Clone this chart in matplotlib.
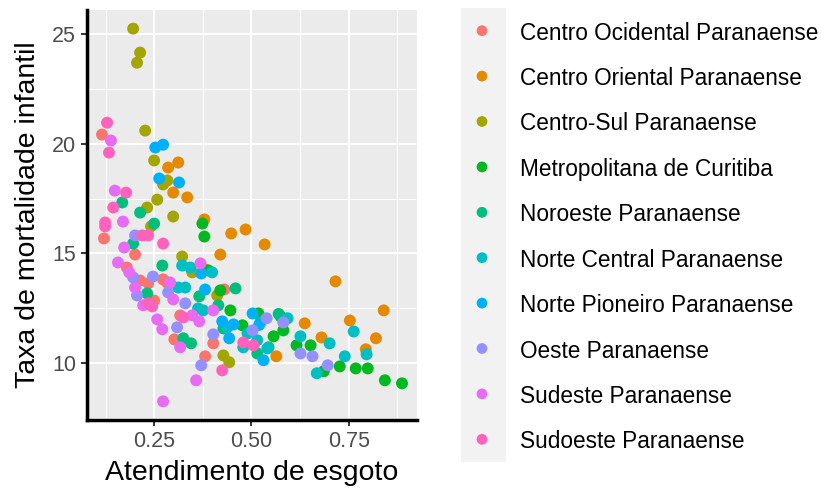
import numpy as np
import matplotlib.pyplot as plt
from matplotlib.patches import Rectangle

plt.rcParams['font.family'] = ['Liberation Sans', 'DejaVu Sans']

# mesorregioes e cores (paleta hue do ggplot)
regioes = ["Centro Ocidental Paranaense", "Centro Oriental Paranaense",
           "Centro-Sul Paranaense", "Metropolitana de Curitiba",
           "Noroeste Paranaense", "Norte Central Paranaense",
           "Norte Pioneiro Paranaense", "Oeste Paranaense",
           "Sudeste Paranaense", "Sudoeste Paranaense"]
cores = ["#F8766D", "#E58A00", "#A3A500", "#00B81F", "#00BF7D",
         "#00BFC4", "#00B0F6", "#9590FF", "#E76BF3", "#FF62BC"]

# atendimento de esgoto (x) e taxa de mortalidade infantil (y)
x_centro_ocidental = [0.116, 0.121, 0.201, 0.180, 0.214, 0.235, 0.273, 0.283, 0.250, 0.317, 0.302, 0.402, 0.381, 0.430]
y_centro_ocidental = [20.41, 15.68, 14.95, 14.36, 13.77, 13.64, 13.82, 13.68, 12.86, 12.18, 11.09, 10.91, 10.32, 13.36]

x_centro_oriental = [0.286, 0.312, 0.299, 0.335, 0.379, 0.448, 0.485, 0.534, 0.420, 0.381, 0.564, 0.637, 0.680, 0.716, 0.753, 0.840, 0.820, 0.794]
y_centro_oriental = [18.91, 19.14, 17.77, 17.55, 16.55, 15.91, 16.09, 15.41, 14.95, 14.27, 10.32, 11.82, 11.18, 13.73, 11.95, 12.41, 11.14, 10.64]

x_centro_sul = [0.196, 0.214, 0.206, 0.227, 0.250, 0.284, 0.273, 0.232, 0.258, 0.299, 0.242, 0.322, 0.348, 0.412, 0.428, 0.443]
y_centro_sul = [25.23, 24.14, 23.68, 20.59, 19.23, 18.32, 18.14, 17.09, 17.45, 16.68, 16.23, 14.86, 14.14, 13.09, 10.36, 10.05]

x_metropolitana = [0.374, 0.379, 0.389, 0.420, 0.446, 0.477, 0.518, 0.575, 0.582, 0.557, 0.616, 0.652, 0.686, 0.727, 0.768, 0.799, 0.843, 0.887]
y_metropolitana = [16.36, 15.77, 14.23, 13.32, 12.41, 11.73, 12.27, 12.14, 11.50, 11.23, 10.82, 10.82, 9.64, 9.86, 9.77, 9.77, 9.23, 9.09]

x_noroeste = [0.168, 0.214, 0.250, 0.196, 0.271, 0.232, 0.366, 0.459, 0.415, 0.325, 0.345, 0.515, 0.544, 0.428, 0.570]
y_noroeste = [17.32, 16.86, 16.36, 15.45, 14.45, 13.18, 13.05, 13.41, 12.64, 11.14, 10.91, 10.45, 10.73, 11.59, 12.25]

x_norte_central = [0.322, 0.343, 0.399, 0.312, 0.330, 0.363, 0.376, 0.438, 0.523, 0.593, 0.490, 0.515, 0.479, 0.541, 0.626, 0.701, 0.668, 0.763, 0.796, 0.740]
y_norte_central = [14.45, 14.36, 14.14, 13.45, 13.45, 12.50, 12.41, 11.64, 11.86, 12.05, 11.36, 11.05, 10.73, 10.68, 11.23, 10.91, 9.55, 11.45, 10.41, 10.32]

x_norte_pioneiro = [0.253, 0.273, 0.263, 0.314, 0.371, 0.381, 0.425, 0.454, 0.503, 0.443, 0.531, 0.520]
y_norte_pioneiro = [19.82, 19.95, 18.41, 18.23, 14.09, 13.36, 11.91, 11.77, 12.27, 11.14, 10.14, 11.75]

x_oeste = [0.201, 0.196, 0.247, 0.206, 0.286, 0.330, 0.309, 0.402, 0.371, 0.539, 0.582, 0.503, 0.626, 0.657, 0.696]
y_oeste = [15.82, 13.91, 13.95, 13.09, 13.23, 12.73, 11.64, 11.32, 9.91, 12.05, 11.86, 11.50, 10.45, 10.32, 9.91]

x_sudeste = [0.139, 0.149, 0.170, 0.173, 0.157, 0.186, 0.201, 0.291, 0.299, 0.222, 0.369, 0.348, 0.366, 0.258, 0.271, 0.317, 0.358, 0.273, 0.402]
y_sudeste = [20.14, 17.86, 16.45, 15.27, 14.59, 14.14, 13.45, 13.68, 12.91, 12.64, 14.55, 12.18, 11.91, 12.00, 11.55, 10.73, 9.23, 8.27, 12.41]

x_sudoeste = [0.129, 0.134, 0.178, 0.145, 0.124, 0.124, 0.219, 0.235, 0.273, 0.235, 0.245, 0.325, 0.479, 0.505, 0.425]
y_sudoeste = [20.95, 19.59, 17.77, 17.09, 16.41, 16.23, 15.82, 15.82, 15.45, 12.73, 12.59, 12.09, 10.95, 10.82, 9.68]

series = [(x_centro_ocidental, y_centro_ocidental), (x_centro_oriental, y_centro_oriental),
          (x_centro_sul, y_centro_sul), (x_metropolitana, y_metropolitana),
          (x_noroeste, y_noroeste), (x_norte_central, y_norte_central),
          (x_norte_pioneiro, y_norte_pioneiro), (x_oeste, y_oeste),
          (x_sudeste, y_sudeste), (x_sudoeste, y_sudoeste)]

W, H = 821, 490
fig = plt.figure(figsize=(W / 100, H / 100), dpi=100)
ax = fig.add_axes([87 / W, 1 - 420 / H, 330 / W, 410 / H])
ax.set_facecolor("#EBEBEB")

for (xs, ys), cor in zip(series, cores):
    ax.scatter(xs, ys, s=74, color=cor, edgecolors="none", zorder=3)

# limites com expansao de 5% como no ggplot
todos_x = np.concatenate([s[0] for s in series])
todos_y = np.concatenate([s[1] for s in series])
dx = (todos_x.max() - todos_x.min()) * 0.05
dy = (todos_y.max() - todos_y.min()) * 0.05
ax.set_xlim(todos_x.min() - dx, todos_x.max() + dx)
ax.set_ylim(todos_y.min() - dy, todos_y.max() + dy)

ax.set_xticks([0.25, 0.50, 0.75])
ax.set_xticklabels(["0.25", "0.50", "0.75"])
ax.set_yticks([10, 15, 20, 25])
ax.set_xticks([0.125, 0.375, 0.625, 0.875], minor=True)
ax.set_yticks([7.5, 12.5, 17.5, 22.5], minor=True)
ax.grid(True, which="major", color="white", lw=1.5, zorder=0)
ax.grid(True, which="minor", color="white", lw=0.75, zorder=0)
ax.set_axisbelow(True)

for lado in ["top", "right"]:
    ax.spines[lado].set_visible(False)
for lado in ["left", "bottom"]:
    ax.spines[lado].set_color("black")
    ax.spines[lado].set_linewidth(2.5)
ax.tick_params(which="major", length=4, width=1.4, color="#333333",
               labelsize=15.5, labelcolor="#4D4D4D", pad=4)
ax.tick_params(which="minor", length=0)

ax.set_xlabel("Atendimento de esgoto", fontsize=20.5, labelpad=6)
ax.set_ylabel("Taxa de mortalidade infantil", fontsize=20.5, labelpad=8)

# legenda
lg = fig.add_axes([461 / W, 1 - 462 / H, 360 / W, 454 / H])
lg.set_xlim(0, 360)
lg.set_ylim(len(regioes) - 0.5, -0.5)
lg.axis("off")
lg.add_patch(Rectangle((0, -0.5), 45, len(regioes), color="#F2F2F2", lw=0))
idx = np.arange(len(regioes))
lg.scatter(np.full(len(regioes), 21), idx, s=60, c=cores, edgecolors="none")
for i, nome in enumerate(regioes):
    lg.text(59, i, nome, fontsize=16.3, va="center_baseline", ha="left")

fig.savefig("out.png", dpi=100)
